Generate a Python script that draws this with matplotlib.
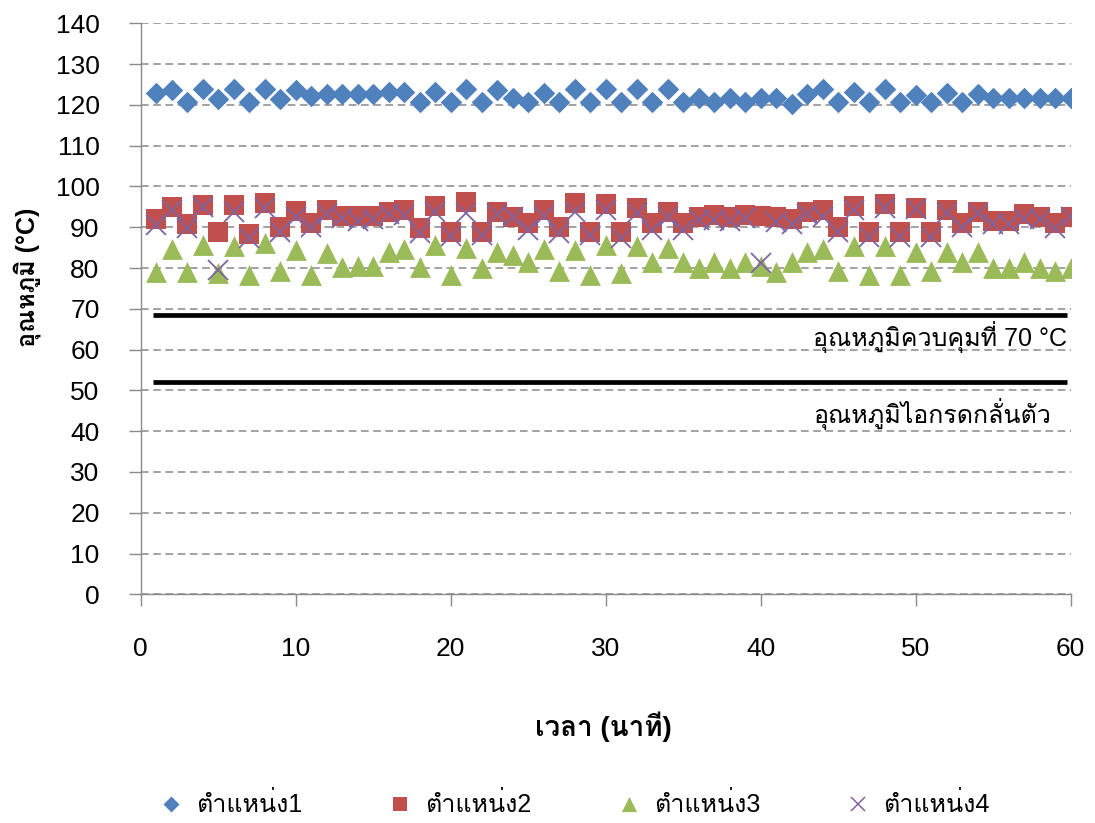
import matplotlib
matplotlib.use("Agg")
import matplotlib.pyplot as plt
from matplotlib import font_manager
from matplotlib.ft2font import FT2Font
from matplotlib.path import Path
from matplotlib.lines import Line2D

# ---- data -------------------------------------------------------------
minutes = list(range(1, 61))

pos1 = [122.9, 123.6, 120.7, 124.0, 121.5, 123.8, 120.7, 123.8, 121.5, 123.6,
        122.1, 122.6, 122.6, 122.6, 122.6, 123.2, 123.2, 120.7, 123.2, 120.7,
        124.0, 120.7, 123.6, 121.8, 120.7, 122.8, 120.7, 123.8, 120.7, 123.8,
        120.7, 124.0, 120.7, 123.8, 120.7, 121.8, 120.7, 121.8, 120.7, 121.8,
        121.8, 120.2, 122.6, 123.8, 120.7, 123.2, 120.7, 124.0, 120.7, 122.4,
        120.7, 122.8, 120.7, 122.6, 121.8, 121.8, 121.8, 121.8, 121.8, 121.8]

pos2 = [91.9, 94.9, 90.7, 95.4, 88.9, 95.4, 88.4, 95.9, 90.1, 94.1,
        91.1, 94.2, 92.8, 92.8, 92.8, 93.8, 94.2, 89.7, 95.2, 88.9,
        96.1, 88.9, 93.8, 92.6, 91.1, 94.2, 90.1, 95.9, 88.9, 95.7,
        88.9, 94.6, 91.0, 93.8, 91.1, 92.6, 93.0, 92.6, 93.0, 92.8,
        92.6, 91.9, 93.8, 94.2, 90.1, 95.2, 88.9, 95.7, 88.9, 94.6,
        88.9, 94.2, 91.1, 93.8, 91.6, 91.6, 93.2, 92.6, 91.1, 92.6]

pos3 = [79.1, 84.6, 79.1, 85.6, 78.7, 85.3, 78.3, 86.2, 79.3, 84.3,
        78.3, 83.8, 80.2, 80.4, 80.4, 84.0, 84.6, 80.2, 85.7, 78.4,
        84.8, 80.0, 84.0, 83.2, 81.4, 84.6, 79.3, 84.4, 78.4, 85.7,
        78.7, 85.5, 81.4, 84.8, 81.4, 80.1, 81.4, 80.1, 81.4, 80.6,
        79.0, 81.4, 84.0, 84.6, 79.3, 85.5, 78.3, 85.5, 78.3, 84.0,
        79.3, 84.0, 81.4, 84.0, 80.1, 80.1, 81.4, 80.1, 79.3, 80.1]

pos4 = [90.6, 94.2, 89.7, 94.9, 79.5, 93.8, 87.3, 94.6, 88.9, 92.6,
        90.1, 93.2, 92.2, 91.6, 91.9, 93.2, 93.0, 88.7, 93.8, 87.9,
        93.6, 88.1, 93.2, 92.6, 89.3, 92.8, 88.5, 93.8, 88.1, 94.2,
        87.3, 93.6, 89.3, 92.6, 89.3, 91.8, 91.8, 91.6, 92.2, 81.2,
        91.4, 90.8, 93.2, 92.6, 88.9, 94.2, 87.7, 94.6, 87.7, 94.4,
        87.7, 93.4, 90.1, 93.4, 90.8, 90.8, 91.9, 91.9, 89.7, 92.6]

series_names = ["ตำแหน่ง1", "ตำแหน่ง2", "ตำแหน่ง3", "ตำแหน่ง4"]

control_temp = 68.5      # control temperature line
vapour_temp = 52.1       # acid vapour condensation line
ref_span = [0.8, 59.75]  # horizontal extent of the reference lines
ref_labels = ["อุณหภูมิควบคุมที่ 70 °C", "อุณหภูมิไอกรดกลั่นตัว"]

x_label = "เวลา (นาที)"
y_label = "อุณหภูมิ (°C)"
y_ticks = list(range(0, 141, 10))
x_ticks = list(range(0, 61, 10))


# ---- fonts: pick an installed face that covers Thai ---------------------
def thai_capable_fonts():
    found = []
    seen = set()
    for f in font_manager.fontManager.ttflist:
        if f.name in seen:
            continue
        try:
            cmap = FT2Font(f.fname).get_charmap()
        except Exception:
            continue
        if 0x0E15 in cmap and 0x0E33 in cmap:
            found.append(f.name)
            seen.add(f.name)
    return found


thai = thai_capable_fonts()
plt.rcParams["font.family"] = ["Liberation Sans"] + thai + ["DejaVu Sans"]

BLUE = "#4F81BD"
RED = "#C0504D"
GREEN = "#9BBB59"
PURPLE = "#8064A2"
GRID = "#898989"

W, H = 1095, 823
fig = plt.figure(figsize=(W / 100, H / 100), dpi=100)
ax = fig.add_axes([140.7 / W, 1 - 594.3 / H, (1070.7 - 140.7) / W,
                   (594.3 - 23.3) / H])

# marker shapes centred on their bounding boxes
tri = Path([(-0.5, -0.5), (0.5, -0.5), (0.0, 0.5), (-0.5, -0.5)],
           [Path.MOVETO, Path.LINETO, Path.LINETO, Path.CLOSEPOLY])
dia = Path([(0, -0.5), (0.5, 0), (0, 0.5), (-0.5, 0), (0, -0.5)],
           [Path.MOVETO, Path.LINETO, Path.LINETO, Path.LINETO, Path.CLOSEPOLY])

ax.plot(minutes, pos1, linestyle="none", marker=dia, markersize=15.5,
        color=BLUE, markeredgewidth=0, zorder=3)
ax.plot(minutes, pos2, linestyle="none", marker="s", markersize=14.5,
        color=RED, markeredgewidth=0, zorder=3)
ax.plot(minutes, pos3, linestyle="none", marker=tri, markersize=15,
        color=GREEN, markeredgewidth=0, zorder=3)
ax.plot(minutes, pos4, linestyle="none", marker="x", markersize=14,
        color=PURPLE, markeredgewidth=1.3, zorder=4)

# reference lines and their captions
ax.plot(ref_span, [control_temp, control_temp], color="black", lw=3.4,
        solid_capstyle="butt", zorder=2)
ax.plot(ref_span, [vapour_temp, vapour_temp], color="black", lw=3.4,
        solid_capstyle="butt", zorder=2)
ax.text(43.36, 61.0, ref_labels[0], ha="left", va="baseline", fontsize=18)
ax.text(43.36, 42.0, ref_labels[1], ha="left", va="baseline", fontsize=18)

ax.set_xlim(0, 60)
ax.set_ylim(0, 140)
ax.set_xticks(x_ticks)
ax.set_yticks(y_ticks)
ax.tick_params(axis="both", labelsize=19, color=GRID, width=1, length=8.6,
               direction="out")
ax.tick_params(axis="x", pad=22)
ax.tick_params(axis="y", pad=21)

ax.grid(axis="y", color=GRID, linestyle=(0, (5, 3)), linewidth=1.1)
ax.set_axisbelow(True)
for side in ("top", "right"):
    ax.spines[side].set_visible(False)
for side in ("left", "bottom"):
    ax.spines[side].set_color(GRID)
    ax.spines[side].set_linewidth(1)

ax.set_xlabel(x_label, fontsize=20, fontweight="bold", va="center",
              ha="center")
ax.xaxis.set_label_coords((603 - 140.7) / 930, (594.3 - 727) / 571)
ax.set_ylabel(y_label, fontsize=18, fontweight="bold", va="center",
              ha="center")
ax.yaxis.set_label_coords((27 - 140.7) / 930, (594.3 - 277) / 571)

handles = [
    Line2D([], [], linestyle="none", marker=dia, markersize=11.5, color=BLUE,
           markeredgewidth=0),
    Line2D([], [], linestyle="none", marker="s", markersize=10.5, color=RED,
           markeredgewidth=0),
    Line2D([], [], linestyle="none", marker=tri, markersize=11, color=GREEN,
           markeredgewidth=0),
    Line2D([], [], linestyle="none", marker="x", markersize=10.5, color=PURPLE,
           markeredgewidth=1.1),
]
fig.legend(handles, series_names, loc="center",
           bbox_to_anchor=(574 / W, 1 - 805 / H), ncol=4, frameon=False,
           fontsize=18, handletextpad=0.5, columnspacing=3.4,
           handlelength=1.0, borderpad=0)

fig.savefig("out.png", dpi=100)
